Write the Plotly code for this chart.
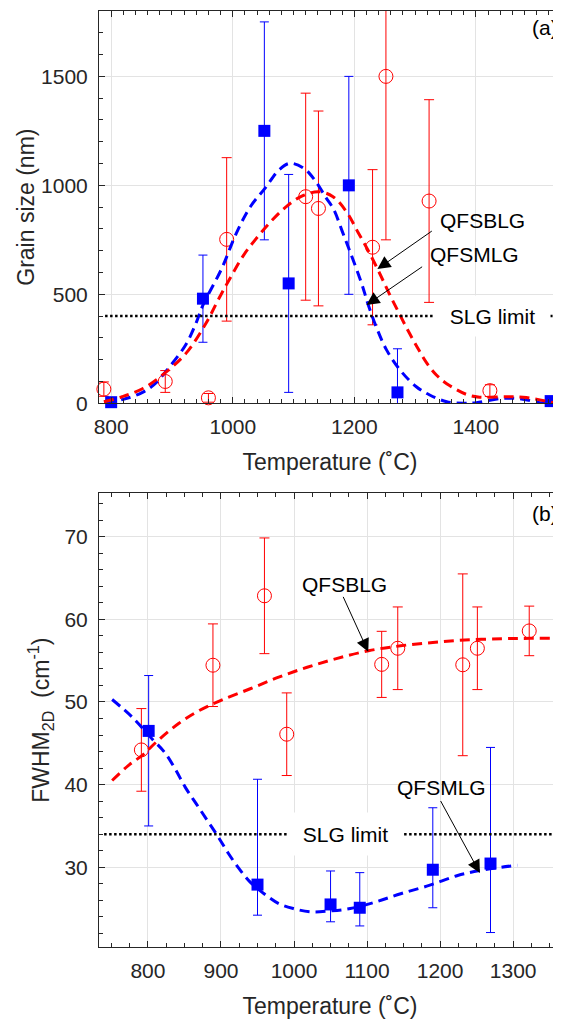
import plotly.graph_objects as go

# ---------------- Panel (a): grain size ----------------
temp_a_blg = [788, 889, 960, 990, 1120, 1141, 1230, 1252, 1323, 1423]
grain_blg = [65, 100, 25, 752, 948, 894, 716, 1500, 928, 58]
grain_blg_err = [33, 50, 20, 375, 475, 447, 356, 750, 465, 27]

temp_a_mlg = [800, 951, 1052, 1092, 1191, 1271, 1523]
grain_mlg = [5, 480, 1250, 550, 1000, 50, 10]
grain_mlg_err = [0, 200, 500, 500, 500, 200, 0]

fit_a_mlg_t = [790, 820, 850, 870, 894, 923, 940, 951, 982, 1006, 1029, 1053, 1076, 1094,
               1117, 1135, 1153, 1166, 1180, 1193, 1212, 1223, 1237, 1253, 1276, 1302,
               1324, 1352, 1380, 1401, 1440, 1472, 1505, 1527]
fit_a_mlg_g = [3, 18, 48, 84, 160, 270, 370, 450, 619, 781, 902, 986, 1070, 1101,
               1078, 1024, 945, 890, 790, 695, 550, 451, 344, 245, 150, 76,
               38, 7, 0, 3, 22, 21, 3, 0]

fit_a_blg_t = [788, 818, 853, 888, 923, 956, 976, 994, 1018, 1041, 1065, 1088, 1112, 1141,
               1165, 1188, 1206, 1223, 1241, 1258, 1276, 1291, 1305, 1319, 1335, 1352,
               1385, 1406, 1450, 1483, 1527]
fit_a_blg_g = [7, 30, 69, 138, 229, 367, 474, 566, 680, 764, 841, 902, 948, 971,
               948, 875, 785, 700, 600, 500, 400, 320, 250, 185, 130, 90,
               40, 28, 30, 26, 3]

slg_a_t = [790, 1540]
slg_a_g = [400, 400]

# ---------------- Panel (b): FWHM 2D ----------------
temp_b_blg = [791, 889, 959.5, 990, 1120, 1142, 1231, 1251, 1322]
fwhm_blg = [44.2, 54.45, 62.85, 46.1, 54.55, 56.5, 54.5, 56.5, 58.6]
fwhm_blg_err = [5, 5, 7, 5, 4, 5, 11, 5, 3]

temp_b_mlg = [801, 950, 1050, 1090, 1190, 1269]
fwhm_mlg = [46.5, 27.9, 25.5, 25.1, 29.7, 30.45]
fwhm_mlg_err_plus = [6.7, 12.75, 4.05, 4.25, 7.5, 14.05]
fwhm_mlg_err_minus = [11.5, 3.7, 2.1, 2.2, 4.6, 8.35]

fit_b_mlg_t = [751, 778, 807, 822, 837, 851, 866, 881, 896, 910, 925, 940, 959, 979, 999,
               1023, 1048, 1077, 1112, 1146, 1185, 1224, 1254, 1284, 1306]
fit_b_mlg_f = [50.3, 48.2, 45.4, 44.0, 41.95, 39.7, 37.7, 35.7, 33.7, 31.7, 29.8, 28.2, 26.8,
               25.6, 25.0, 24.6, 24.7, 25.0, 25.8, 26.8, 27.8, 29.0, 29.6, 30.0, 30.25]

fit_b_blg_t = [751, 773, 793, 812, 842, 871, 900, 940, 979, 1018, 1058, 1102, 1146, 1190,
               1234, 1284, 1323, 1366]
fit_b_blg_f = [40.5, 42.3, 43.6, 45.2, 47.4, 49.0, 50.2, 51.6, 53.0, 54.2, 55.25, 56.2, 56.8,
               57.2, 57.5, 57.65, 57.7, 57.7]

slg_b_t = [740, 1366]
slg_b_f = [34, 34]

RED = "#ff0000"
BLUE = "#0000ff"
FONT = "Liberation Sans, Arial, Helvetica, sans-serif"
TXT = "#262626"

fig = go.Figure()


def add_panel(xa, ya, t_blg, v_blg, e_blg, t_mlg, v_mlg, e_mlg_p, e_mlg_m,
              ft_mlg, fv_mlg, ft_blg, fv_blg, st, sv):
    # error bars (clipped to the axes)
    fig.add_trace(go.Scatter(x=t_blg, y=v_blg, mode="markers", xaxis=xa, yaxis=ya,
                             marker=dict(size=1, opacity=0),
                             error_y=dict(type="data", array=e_blg, color=RED,
                                          thickness=1, width=5),
                             showlegend=False, hoverinfo="skip"))
    fig.add_trace(go.Scatter(x=t_mlg, y=v_mlg, mode="markers", xaxis=xa, yaxis=ya,
                             marker=dict(size=1, opacity=0),
                             error_y=dict(type="data", array=e_mlg_p, arrayminus=e_mlg_m,
                                          symmetric=False, color=BLUE,
                                          thickness=1, width=4.5),
                             showlegend=False, hoverinfo="skip"))
    # markers
    fig.add_trace(go.Scatter(x=t_blg, y=v_blg, mode="markers", xaxis=xa, yaxis=ya,
                             marker=dict(symbol="circle-open", size=14, color=RED,
                                         line=dict(width=1, color=RED)),
                             cliponaxis=False, showlegend=False))
    fig.add_trace(go.Scatter(x=t_mlg, y=v_mlg, mode="markers", xaxis=xa, yaxis=ya,
                             marker=dict(symbol="square", size=12, color=BLUE,
                                         line=dict(width=0)),
                             cliponaxis=False, showlegend=False))
    # fitted curves
    fig.add_trace(go.Scatter(x=ft_mlg, y=fv_mlg, mode="lines", xaxis=xa, yaxis=ya,
                             line=dict(color=BLUE, width=3, dash="10px,6px", shape="spline"),
                             showlegend=False))
    fig.add_trace(go.Scatter(x=ft_blg, y=fv_blg, mode="lines", xaxis=xa, yaxis=ya,
                             line=dict(color=RED, width=3, dash="10px,6px", shape="spline"),
                             showlegend=False))
    # SLG limit
    fig.add_trace(go.Scatter(x=st, y=sv, mode="lines", xaxis=xa, yaxis=ya,
                             line=dict(color="black", width=2.5, dash="2.5px,2.5px"),
                             showlegend=False))


add_panel("x", "y", temp_a_blg, grain_blg, grain_blg_err, temp_a_mlg, grain_mlg,
          grain_mlg_err, grain_mlg_err, fit_a_mlg_t, fit_a_mlg_g, fit_a_blg_t, fit_a_blg_g,
          slg_a_t, slg_a_g)
add_panel("x2", "y2", temp_b_blg, fwhm_blg, fwhm_blg_err, temp_b_mlg, fwhm_mlg,
          fwhm_mlg_err_plus, fwhm_mlg_err_minus, fit_b_mlg_t, fit_b_mlg_f, fit_b_blg_t,
          fit_b_blg_f, slg_b_t, slg_b_f)

axis_common = dict(
    showline=True, linecolor=TXT, linewidth=1,
    ticks="inside", ticklen=6, tickwidth=1, tickcolor=TXT,
    showgrid=True, gridcolor="#e3e3e3", gridwidth=1, zeroline=False,
    tickfont=dict(family=FONT, size=21, color=TXT),
)
title_font = dict(family=FONT, size=23, color=TXT)

fig.update_layout(
    width=553, height=1013,
    margin=dict(l=91, r=0, t=3, b=74),
    paper_bgcolor="white", plot_bgcolor="white",
    font=dict(family=FONT, size=21, color=TXT),
    showlegend=False,
    xaxis=dict(axis_common, domain=[0, 1], anchor="y", range=[780, 1540],
               tickvals=[800, 1000, 1200, 1400], mirror="ticks", ticklabelstandoff=5,
               minor=dict(ticks="inside", dtick=20, tick0=0, ticklen=4, tickcolor=TXT,
                          showgrid=False),
               title=dict(text="Temperature (˚C)", font=title_font, standoff=16)),
    yaxis=dict(axis_common, domain=[0.5809, 1], anchor="x", range=[0, 1800],
               tickvals=[0, 500, 1000, 1500], mirror=False, ticklabelstandoff=6,
               minor=dict(ticks="inside", dtick=100, tick0=0, ticklen=4, tickcolor=TXT,
                          showgrid=False),
               title=dict(text="Grain size (nm)", font=title_font, standoff=0)),
    xaxis2=dict(axis_common, domain=[0, 1], anchor="y2", range=[733, 1365.5],
                tickvals=[800, 900, 1000, 1100, 1200, 1300], mirror="ticks",
                ticklabelstandoff=5,
                minor=dict(ticks="inside", dtick=25, tick0=0, ticklen=4, tickcolor=TXT,
                           showgrid=False),
                title=dict(text="Temperature (˚C)", font=title_font, standoff=16)),
    yaxis2=dict(axis_common, domain=[0, 0.4847], anchor="x2", range=[20.35, 75.25],
                tickvals=[30, 40, 50, 60, 70], mirror=False, ticklabelstandoff=6,
                minor=dict(ticks="inside", dtick=2, tick0=0, ticklen=4, tickcolor=TXT,
                           showgrid=False),
                title=dict(text="FWHM<sub>2D</sub>  (cm<sup>-1</sup>)",
                           font=title_font, standoff=8)),
)

ann_font = dict(family=FONT, size=21, color="black")
arrow_style = dict(showarrow=True, arrowhead=2, arrowsize=2.6, arrowwidth=1,
                   arrowcolor="black", standoff=0, text="")
annotations = [
    # panel labels
    dict(text="(a)", xref="x domain", yref="y domain", x=0.998, y=0.958,
         xanchor="right", yanchor="middle", showarrow=False, font=ann_font),
    dict(text="(b)", xref="x2 domain", yref="y2 domain", x=0.998, y=0.9566,
         xanchor="right", yanchor="middle", showarrow=False, font=ann_font),
    # SLG limit labels
    dict(text="SLG limit", xref="x", yref="y", x=1428, y=400, showarrow=False,
         font=ann_font, bgcolor="white", width=115, height=40, borderpad=0),
    dict(text="SLG limit", xref="x2", yref="y2", x=1071, y=34, showarrow=False,
         font=ann_font, bgcolor="white", width=113, height=42, borderpad=0),
    # panel (a) labels and arrows
    dict(text="QFSBLG", xref="x", yref="y", x=1411, y=841, showarrow=False, font=ann_font),
    dict(text="QFSMLG", xref="x", yref="y", x=1398, y=681, showarrow=False, font=ann_font),
    dict(arrow_style, xref="x", yref="y", x=1238, y=616, axref="x", ayref="y",
         ax=1330, ay=795),
    dict(arrow_style, xref="x", yref="y", x=1220, y=451, axref="x", ayref="y",
         ax=1314, ay=631),
    # panel (b) labels and arrows
    dict(text="QFSBLG", xref="x2", yref="y2", x=1068.6, y=64.2, showarrow=False, font=ann_font),
    dict(text="QFSMLG", xref="x2", yref="y2", x=1202, y=39.7, showarrow=False, font=ann_font),
    dict(arrow_style, xref="x2", yref="y2", x=1101.6, y=56.07, axref="x2", ayref="y2",
         ax=1066.4, ay=62.9),
    dict(arrow_style, xref="x2", yref="y2", x=1254.5, y=29.3, axref="x2", ayref="y2",
         ax=1199.6, ay=38.2),
]
fig.update_layout(annotations=annotations)

fig.write_html("out.html")
